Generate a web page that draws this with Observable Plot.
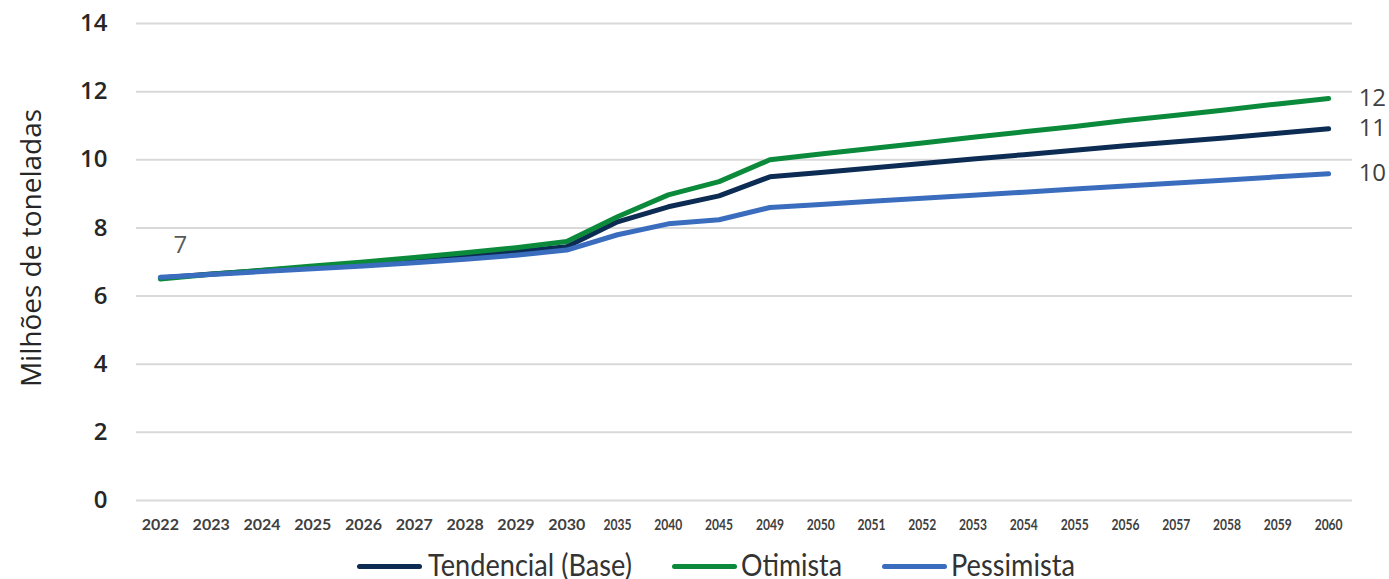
<!DOCTYPE html>
<html>
<head>
<meta charset="utf-8">
<script src="https://cdn.jsdelivr.net/npm/d3@7"></script>
<script src="https://cdn.jsdelivr.net/npm/@observablehq/plot@0.6"></script>
<style>
  body { margin: 0; background: #fff; font-family: Lato, "Open Sans", sans-serif; }
  #wrap { position: relative; width: 1389px; height: 579px; overflow: hidden; }
  .sw { position: absolute; width: 65px; height: 5px; border-radius: 3px; }
  .lt { position: absolute; font-family: Lato, sans-serif; font-size: 31px; line-height: 31px; color: #333; white-space: nowrap; transform-origin: left center; }
</style>
</head>
<body>
<div id="wrap"><div id="chart"></div><div id="legend"></div></div>
<script>
const years = ["2022","2023","2024","2025","2026","2027","2028","2029","2030","2035","2040","2045","2049",
               "2050","2051","2052","2053","2054","2055","2056","2057","2058","2059","2060"];
const base       = [6.53,6.65,6.75,6.85,6.95,7.07,7.18,7.30,7.45,8.18,8.62,8.94,9.50,
                    9.63,9.76,9.89,10.02,10.15,10.28,10.41,10.53,10.65,10.78,10.91];
const otimista   = [6.50,6.64,6.76,6.88,7.00,7.13,7.27,7.42,7.60,8.33,8.97,9.36,10.00,
                    10.17,10.33,10.49,10.66,10.82,10.98,11.15,11.31,11.47,11.64,11.80];
const pessimista = [6.55,6.63,6.72,6.80,6.88,6.98,7.08,7.20,7.35,7.80,8.12,8.24,8.60,
                    8.69,8.78,8.87,8.96,9.05,9.14,9.23,9.32,9.41,9.50,9.59];
const seriesNames = ["Tendencial (Base)", "Otimista", "Pessimista"];
const seriesColors = ["#0d2c54", "#0a8a3a", "#3b6dbf"];
const yTicks = [0, 2, 4, 6, 8, 10, 12, 14];
const yTitle = "Milhões de toneladas";

const seriesValues = [base, otimista, pessimista];
const data = seriesNames.flatMap((name, s) =>
  years.map((year, i) => ({ year, value: seriesValues[s][i], serie: name })));
const lastPoints = seriesNames.map((name, s) => ({ year: years[years.length - 1], value: seriesValues[s][years.length - 1], serie: name }));
const firstPoint = [{ year: years[0], value: base[0] }];

const late = years.slice(9);

const chart = Plot.plot({
  width: 1389,
  height: 545,
  marginLeft: 136,
  marginRight: 37,
  marginTop: 23,
  marginBottom: 45,
  style: { fontFamily: "Lato, sans-serif", background: "white" },
  x: { type: "point", domain: years, padding: 0.47, round: false },
  y: { domain: [0, 14] },
  color: { domain: seriesNames, range: seriesColors },
  marks: [
    Plot.gridY(yTicks, { stroke: "#d9d9d9", strokeOpacity: 1, strokeWidth: 2 }),
    Plot.axisY(yTicks, { tickSize: 0, tickPadding: 29, fontSize: 24, fontWeight: 600, fontFamily: "'Open Sans', sans-serif", fill: "#262626", label: null }),
    Plot.axisX(years, { tickSize: 0, tickPadding: 18, fontSize: 16, fontWeight: 700, fontFamily: "Lato, sans-serif", fill: "#404040", label: null }),
    Plot.text([yTitle], { frameAnchor: "left", textAnchor: "middle", lineAnchor: "middle", rotate: -90, dx: -104, dy: -14, fontSize: 28, fontFamily: "'Open Sans', sans-serif", fill: "#262626", text: d => d }),
    Plot.line(data, { x: "year", y: "value", z: "serie", stroke: "serie", strokeWidth: 5, strokeLinejoin: "round", strokeLinecap: "round" }),
    Plot.text(lastPoints, { x: "year", y: "value", text: d => String(Math.round(d.value)), dx: 30, textAnchor: "start", fontSize: 24, fontFamily: "'Open Sans', sans-serif", fill: "#404040" }),
    Plot.text(firstPoint, { x: "year", y: "value", text: d => String(Math.round(d.value)), dx: 20, dy: -33, fontSize: 24, fontFamily: "'Open Sans', sans-serif", fill: "#595959" })
  ]
});
document.getElementById("chart").appendChild(chart);

// narrower tick labels for the later years, as in the reference
d3.select(chart).selectAll("text").each(function() {
  const t = this.textContent;
  if (late.includes(t) && this.closest("g[aria-label='x-axis tick label']")) {
    this.setAttribute("textLength", 28);
    this.setAttribute("lengthAdjust", "spacingAndGlyphs");
  }
});

// legend (HTML, below the SVG)
const legend = document.getElementById("legend");
const swLeft = [357, 672, 882];
const txtLeft = [428, 741, 951];
const txtWidth = [204, 101, 124];
seriesNames.forEach((name, i) => {
  const sw = document.createElement("div");
  sw.className = "sw";
  sw.style.background = seriesColors[i];
  sw.style.left = swLeft[i] + "px";
  sw.style.top = "564px";
  legend.appendChild(sw);
  const label = document.createElement("div");
  label.className = "lt";
  label.textContent = name;
  label.style.left = txtLeft[i] + "px";
  label.style.top = "549px";
  legend.appendChild(label);
  const w = label.getBoundingClientRect().width;
  label.style.transform = `scaleX(${txtWidth[i] / w})`;
});
</script>
</body>
</html>
